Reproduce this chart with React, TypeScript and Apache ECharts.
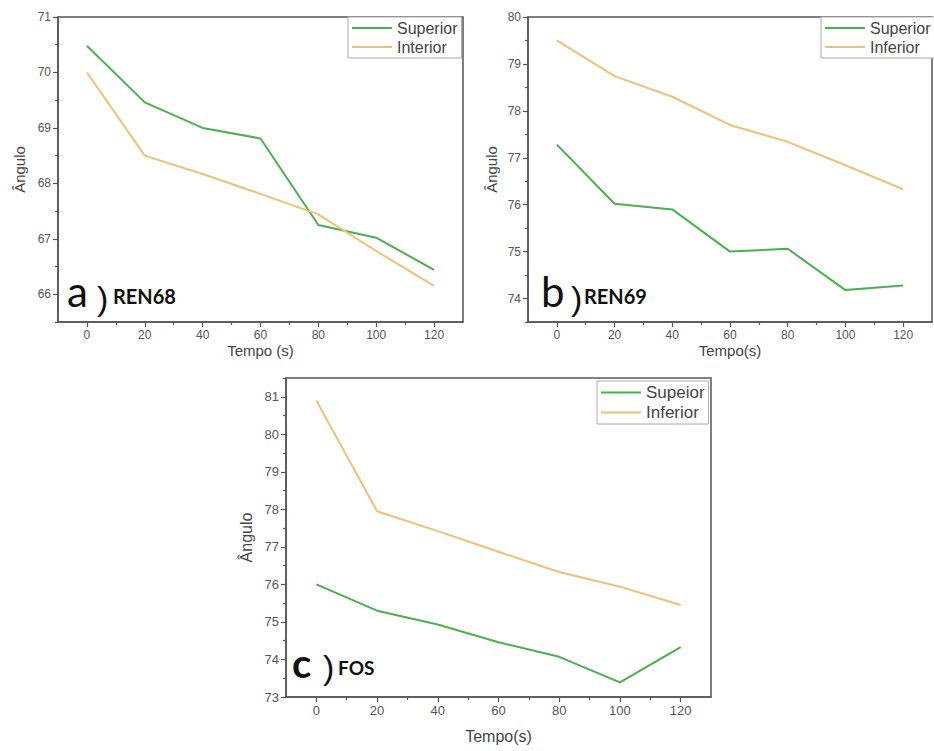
import React, { useEffect, useRef } from "react";
import * as echarts from "echarts";

const tempos = [0, 20, 40, 60, 80, 100, 120];
const xMajor = [0, 20, 40, 60, 80, 100, 120];
const xMinor = [10, 30, 50, 70, 90, 110];

const ren68Superior = [70.48, 69.46, 69.0, 68.81, 67.25, 67.02, 66.44];
const ren68Interior = [70.0, 68.5, 68.17, 67.81, 67.44, 66.78, 66.15];
const ren69Superior = [77.28, 76.02, 75.9, 75.0, 75.06, 74.18, 74.28];
const ren69Inferior = [79.5, 78.74, 78.3, 77.7, 77.34, 76.84, 76.33];
const fosSupeior = [76.0, 75.3, 74.93, 74.46, 74.07, 73.39, 74.33];
const fosInferior = [80.9, 77.95, 77.42, 76.87, 76.33, 75.94, 75.45];

const aYMajor = [66, 67, 68, 69, 70, 71];
const aYMinor = [65.5, 66.5, 67.5, 68.5, 69.5, 70.5];
const bYMajor = [74, 75, 76, 77, 78, 79, 80];
const bYMinor = [73.5, 74.5, 75.5, 76.5, 77.5, 78.5, 79.5];
const cYMajor = [73, 74, 75, 76, 77, 78, 79, 80, 81];
const cYMinor = [73.5, 74.5, 75.5, 76.5, 77.5, 78.5, 79.5, 80.5, 81.5];

const GREEN = "#4caf50";
const ORANGE = "#f0c078";
const AXIS = "#555";
const TXT = "#444";
const FONT = "Liberation Sans, Arial, sans-serif";

function pairs(ys: number[]) {
  return tempos.map((t, i) => [t, ys[i]]);
}

export default function App() {
  const ref = useRef<HTMLDivElement>(null);
  useEffect(() => {
    if (!ref.current) return;
    const chart = echarts.init(ref.current, null, { renderer: "svg" });

    const panels = [
      { grid: { left: 58, top: 17, width: 405, height: 305 }, ymin: 65.5, ymax: 71, yMaj: aYMajor, yMin: aYMinor, xName: "Tempo (s)", fs: 12, ns: 15, yGap: 31, xGap: 21 },
      { grid: { left: 528, top: 17, width: 404, height: 305 }, ymin: 73.5, ymax: 80, yMaj: bYMajor, yMin: bYMinor, xName: "Tempo(s)", fs: 12, ns: 15, yGap: 29, xGap: 21 },
      { grid: { left: 286, top: 378, width: 425, height: 319 }, ymin: 73, ymax: 81.5, yMaj: cYMajor, yMin: cYMinor, xName: "Tempo(s)", fs: 13, ns: 16, yGap: 32, xGap: 31 },
    ];

    const grid: any[] = [];
    const xAxis: any[] = [];
    const yAxis: any[] = [];
    panels.forEach((p, i) => {
      grid.push({ ...p.grid, show: true, borderColor: AXIS, borderWidth: 1.5, backgroundColor: "transparent" });
      xAxis.push({
        type: "value", gridIndex: i, min: -10, max: 130, position: "bottom",
        name: p.xName, nameLocation: "middle", nameGap: p.xGap,
        nameTextStyle: { fontSize: p.ns, color: TXT, fontFamily: FONT },
        axisLine: { show: true, onZero: false, lineStyle: { color: AXIS, width: 1.5 } },
        axisTick: { show: true, inside: false, length: 5, customValues: xMajor, lineStyle: { color: AXIS, width: 1.2 } },
        axisLabel: { show: true, customValues: xMajor, fontSize: p.fs, color: "#555", fontFamily: FONT, margin: 7 },
        splitLine: { show: false },
      });
      xAxis.push({
        type: "value", gridIndex: i, min: -10, max: 130, position: "bottom", offset: 0,
        axisLine: { show: false, onZero: false },
        axisTick: { show: true, inside: false, length: 3, customValues: xMinor, lineStyle: { color: AXIS, width: 1.2 } },
        axisLabel: { show: false },
        splitLine: { show: false },
      });
      yAxis.push({
        type: "value", gridIndex: i, min: p.ymin, max: p.ymax, position: "left",
        name: "Ângulo", nameLocation: "middle", nameGap: p.yGap,
        nameTextStyle: { fontSize: p.ns, color: TXT, fontFamily: FONT },
        axisLine: { show: true, onZero: false, lineStyle: { color: AXIS, width: 1.5 } },
        axisTick: { show: true, inside: false, length: 5, customValues: p.yMaj, lineStyle: { color: AXIS, width: 1.2 } },
        axisLabel: { show: true, customValues: p.yMaj, fontSize: p.fs, color: "#555", fontFamily: FONT, margin: 7 },
        splitLine: { show: false },
      });
      yAxis.push({
        type: "value", gridIndex: i, min: p.ymin, max: p.ymax, position: "left", offset: 0,
        axisLine: { show: false, onZero: false },
        axisTick: { show: true, inside: false, length: 3, customValues: p.yMin, lineStyle: { color: AXIS, width: 1.2 } },
        axisLabel: { show: false },
        splitLine: { show: false },
      });
    });

    const mk = (name: string, data: number[], color: string, gi: number) => ({
      name, type: "line", xAxisIndex: gi * 2, yAxisIndex: gi * 2, data: pairs(data),
      showSymbol: false, symbol: "none", lineStyle: { color, width: 2 }, itemStyle: { color },
    });

    const legendBase = {
      orient: "vertical", icon: "rect", itemWidth: 40, itemHeight: 2, itemGap: 3,
      backgroundColor: "#fff", borderColor: "#aaa", borderWidth: 1, padding: [3, 4, 3, 4],
      textStyle: { fontSize: 16, color: TXT, fontFamily: FONT, padding: [0, 0, 0, 0] },
      selectedMode: false,
    };

    const label = (x: number, y: number, text: string, size: number, weight: string, family = "Lato, Open Sans, sans-serif") => ({
      type: "text", x, y, style: { text, fontSize: size, fontWeight: weight, fontFamily: family, fill: "#111", verticalAlign: "bottom", align: "left" },
    });

    chart.setOption({
      animation: false,
      backgroundColor: "#fff",
      grid, xAxis, yAxis,
      legend: [
        { ...legendBase, left: 348, top: 17, data: ["Superior", "Interior"] },
        { ...legendBase, left: 821, top: 17, data: ["Superior", "Inferior"] },
        { ...legendBase, left: 597, top: 381, textStyle: { ...legendBase.textStyle, fontSize: 17 }, data: ["Supeior", "Inferior"] },
      ],
      series: [
        mk("Superior", ren68Superior, GREEN, 0),
        mk("Interior", ren68Interior, ORANGE, 0),
        mk("Superior", ren69Superior, GREEN, 1),
        mk("Inferior", ren69Inferior, ORANGE, 1),
        mk("Supeior", fosSupeior, GREEN, 2),
        mk("Inferior", fosInferior, ORANGE, 2),
      ],
      graphic: [
        label(67, 312, "a", 42, "normal"),
        label(97, 315, ")", 34, "normal", FONT),
        label(113, 306, "REN68", 20, "bold"),
        label(541, 312, "b", 42, "normal"),
        label(571, 315, ")", 34, "normal", FONT),
        label(584, 306, "REN69", 20, "bold"),
        label(292, 683, "c", 40, "bold"),
        label(323, 684, ")", 34, "normal", FONT),
        label(338, 677, "FOS", 19, "bold"),
      ],
    });
    return () => chart.dispose();
  }, []);
  return <div ref={ref} style={{ position: "absolute", left: 0, top: 0, width: 934, height: 751 }} />;
}
